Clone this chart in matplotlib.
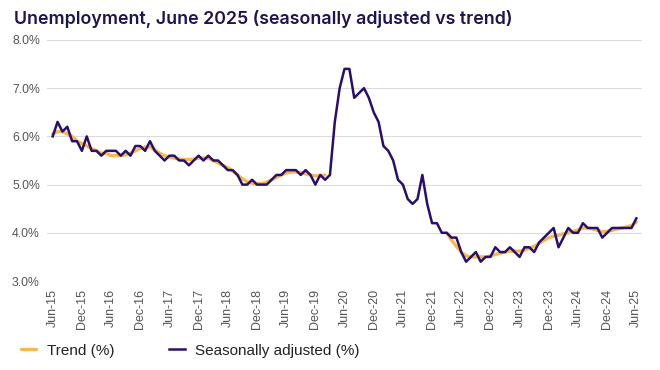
import numpy as np
import matplotlib
matplotlib.use("Agg")
import matplotlib.pyplot as plt


TITLE_COLOR = '#1b1550'
SA_COLOR = '#2a0e6e'
TREND_COLOR = '#f5b94c'
GRID_COLOR = '#dcdcdc'
TICK_COLOR = '#555555'
LEGEND_COLOR = '#222222'

# monthly, Jun-2015 .. Jun-2025
START_YEAR, START_MONTH = 2015, 6

seasonally_adjusted = [
    6.0, 6.3, 6.1, 6.2, 5.9, 5.9, 5.7,                                  # 2015 Jun-Dec
    6.0, 5.7, 5.7, 5.6, 5.7, 5.7, 5.7, 5.6, 5.7, 5.6, 5.8, 5.8,         # 2016
    5.7, 5.9, 5.7, 5.6, 5.5, 5.6, 5.6, 5.5, 5.5, 5.4, 5.5, 5.6,         # 2017
    5.5, 5.6, 5.5, 5.5, 5.4, 5.3, 5.3, 5.2, 5.0, 5.0, 5.1, 5.0,         # 2018
    5.0, 5.0, 5.1, 5.2, 5.2, 5.3, 5.3, 5.3, 5.2, 5.3, 5.2, 5.0,         # 2019
    5.2, 5.1, 5.2, 6.3, 7.0, 7.4, 7.4, 6.8, 6.9, 7.0, 6.8, 6.5,         # 2020
    6.3, 5.8, 5.7, 5.5, 5.1, 5.0, 4.7, 4.6, 4.7, 5.2, 4.6, 4.2,         # 2021
    4.2, 4.0, 4.0, 3.9, 3.9, 3.6, 3.4, 3.5, 3.6, 3.4, 3.5, 3.5,         # 2022
    3.7, 3.6, 3.6, 3.7, 3.6, 3.5, 3.7, 3.7, 3.6, 3.8, 3.9, 4.0,         # 2023
    4.1, 3.7, 3.9, 4.1, 4.0, 4.0, 4.2, 4.1, 4.1, 4.1, 3.9, 4.0,         # 2024
    4.1, 4.1, 4.1, 4.1, 4.1, 4.3,                                       # 2025 Jan-Jun
]

# trend series was suspended through the COVID period (None = no estimate)
nan = None
trend = [
    6.05, 6.1, 6.1, 6.05, 6.0, 5.9, 5.85,
    5.8, 5.75, 5.7, 5.65, 5.65, 5.6, 5.6, 5.6, 5.62, 5.65, 5.7, 5.75,
    5.78, 5.78, 5.72, 5.65, 5.6, 5.57, 5.55, 5.53, 5.52, 5.52, 5.53, 5.55,
    5.55, 5.55, 5.5, 5.45, 5.4, 5.35, 5.28, 5.2, 5.12, 5.06, 5.03, 5.02,
    5.02, 5.05, 5.1, 5.15, 5.2, 5.24, 5.26, 5.26, 5.25, 5.22, 5.2, 5.18,
    5.18, 5.2, nan, nan, nan, nan, nan, nan, nan, nan, nan, nan,
    nan, nan, nan, nan, nan, nan, nan, nan, nan, nan, nan, nan,
    nan, nan, 4.0, 3.85, 3.72, 3.6, 3.52, 3.5, 3.5, 3.5, 3.5, 3.52,
    3.55, 3.58, 3.6, 3.62, 3.62, 3.62, 3.64, 3.68, 3.72, 3.78, 3.84, 3.9,
    3.93, 3.95, 3.98, 4.0, 4.03, 4.06, 4.1, 4.1, 4.08, 4.05, 4.02, 4.03,
    4.05, 4.08, 4.1, 4.12, 4.15, 4.22,
]

y_ticks = [3.0, 4.0, 5.0, 6.0, 7.0, 8.0]


def month_label(index):
    month0 = START_MONTH - 1 + index
    year = START_YEAR + month0 // 12
    name = ['Jan', 'Feb', 'Mar', 'Apr', 'May', 'Jun',
            'Jul', 'Aug', 'Sep', 'Oct', 'Nov', 'Dec'][month0 % 12]
    return f"{name}-{year % 100:02d}"


x = np.arange(len(seasonally_adjusted))
trend_values = np.array([np.nan if v is None else v for v in trend], dtype=float)
tick_positions = x[::6]
tick_labels = [month_label(i) for i in tick_positions]

fig = plt.figure(figsize=(6.6, 3.7), dpi=100)
ax = fig.add_axes([0.071, 0.2405, 0.902, 0.6515])

ax.plot(x, trend_values, color=TREND_COLOR, linewidth=2.4, label='Trend (%)',
        solid_capstyle='round', zorder=2)
ax.plot(x, seasonally_adjusted, color=SA_COLOR, linewidth=1.8,
        label='Seasonally adjusted (%)', zorder=3)

ax.set_ylim(3.0, 8.0)
ax.set_xlim(-1.2, 121.2)
ax.set_yticks(y_ticks)
ax.set_yticklabels([f"{v:.1f}%" for v in y_ticks], fontsize=8.8, color=TICK_COLOR,
                   family='Liberation Sans')
ax.set_xticks(tick_positions)
ax.set_xticklabels(tick_labels, rotation=90, fontsize=9, color=TICK_COLOR,
                   family='Liberation Sans')
ax.tick_params(axis='y', length=0, pad=5)
ax.tick_params(axis='x', length=0, pad=6)
ax.grid(True, axis='y', color=GRID_COLOR, linewidth=0.8)
ax.set_axisbelow(True)
for spine in ax.spines.values():
    spine.set_visible(False)

fig.text(0.021, 0.948, "Unemployment, June 2025 (seasonally adjusted vs trend)",
         fontsize=12.8, color=TITLE_COLOR, family='Inter', weight='semibold',
         va='center')

legend = fig.legend(loc='center left', bbox_to_anchor=(0.011, 0.052), ncol=2,
                    frameon=False, handlelength=1.0,
                    handletextpad=0.7, columnspacing=3.6,
                    prop={'family': 'Liberation Sans', 'size': 11})
for text in legend.get_texts():
    text.set_color(LEGEND_COLOR)

fig.savefig("out.png", dpi=100)
